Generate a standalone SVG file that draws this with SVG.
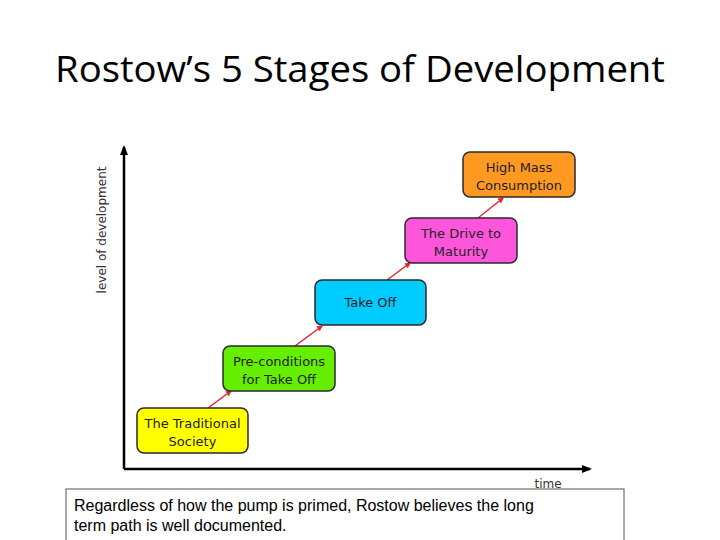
<svg xmlns="http://www.w3.org/2000/svg" width="720" height="540" viewBox="0 0 720 540">
<style>
.b{stroke:#2a2a2a;stroke-width:1.5}
.t{font-family:"DejaVu Sans",sans-serif;font-size:13px;fill:#222;text-anchor:middle}
.r{stroke:#e8222a;stroke-width:1.5;marker-end:url(#ra)}
.ax{stroke:#000;stroke-width:2.5;fill:none}
</style>
<defs>
<marker id="ra" markerWidth="6" markerHeight="6" refX="5" refY="3" orient="auto" markerUnits="userSpaceOnUse"><path d="M0,0L6,3L0,6z" fill="#e8222a"/></marker>
<marker id="ka" markerWidth="10" markerHeight="8" refX="8" refY="4" orient="auto" markerUnits="userSpaceOnUse"><path d="M0,0L10,4L0,8z" fill="#000"/></marker>
</defs>
<rect width="720" height="540" fill="#fff"/>
<text x="360" y="82" font-family="Open Sans, sans-serif" font-size="36" text-anchor="middle" textLength="610" lengthAdjust="spacingAndGlyphs" fill="#000">Rostow’s 5 Stages of Development</text>
<g id="axes">
<path class="ax" d="M124,469V147" marker-end="url(#ka)"/>
<path class="ax" d="M124,469H590" marker-end="url(#ka)"/>
<text transform="translate(106,230) rotate(-90)" font-family="DejaVu Sans, sans-serif" font-size="12" text-anchor="middle" fill="#333">level of development</text>
<text x="548" y="488" font-family="DejaVu Sans, sans-serif" font-size="12" text-anchor="middle" fill="#333">time</text>
</g>
<g id="connectors">
<line class="r" x1="208" y1="408" x2="231" y2="391"/>
<line class="r" x1="295" y1="346" x2="322" y2="326"/>
<line class="r" x1="387" y1="280" x2="410" y2="263"/>
<line class="r" x1="478" y1="218" x2="503" y2="198"/>
</g>
<g id="s1"><rect class="b" x="137" y="408" width="111" height="45" rx="7" fill="#ffff00"/><text class="t" x="192.5" y="428">The Traditional</text><text class="t" x="192.5" y="446">Society</text></g>
<g id="s2"><rect class="b" x="223" y="346" width="112" height="45" rx="7" fill="#66ee00"/><text class="t" x="279" y="366">Pre-conditions</text><text class="t" x="279" y="384">for Take Off</text></g>
<g id="s3"><rect class="b" x="315" y="280" width="111" height="45" rx="7" fill="#00ccff"/><text class="t" x="370.5" y="307">Take Off</text></g>
<g id="s4"><rect class="b" x="405" y="218" width="112" height="45" rx="7" fill="#ff55dd"/><text class="t" x="461" y="238">The Drive to</text><text class="t" x="461" y="256">Maturity</text></g>
<g id="s5"><rect class="b" x="463" y="152" width="112" height="45" rx="7" fill="#ff9922"/><text class="t" x="519" y="172">High Mass</text><text class="t" x="519" y="190">Consumption</text></g>
<g id="note"><rect x="66" y="489" width="558" height="52" fill="#fff" stroke="#555" stroke-width="1"/>
<text font-family="Liberation Sans, sans-serif" font-size="16" fill="#000"><tspan x="74" y="511">Regardless of how the pump is primed, Rostow believes the long</tspan><tspan x="74" y="531">term path is well documented.</tspan></text></g>
</svg>
